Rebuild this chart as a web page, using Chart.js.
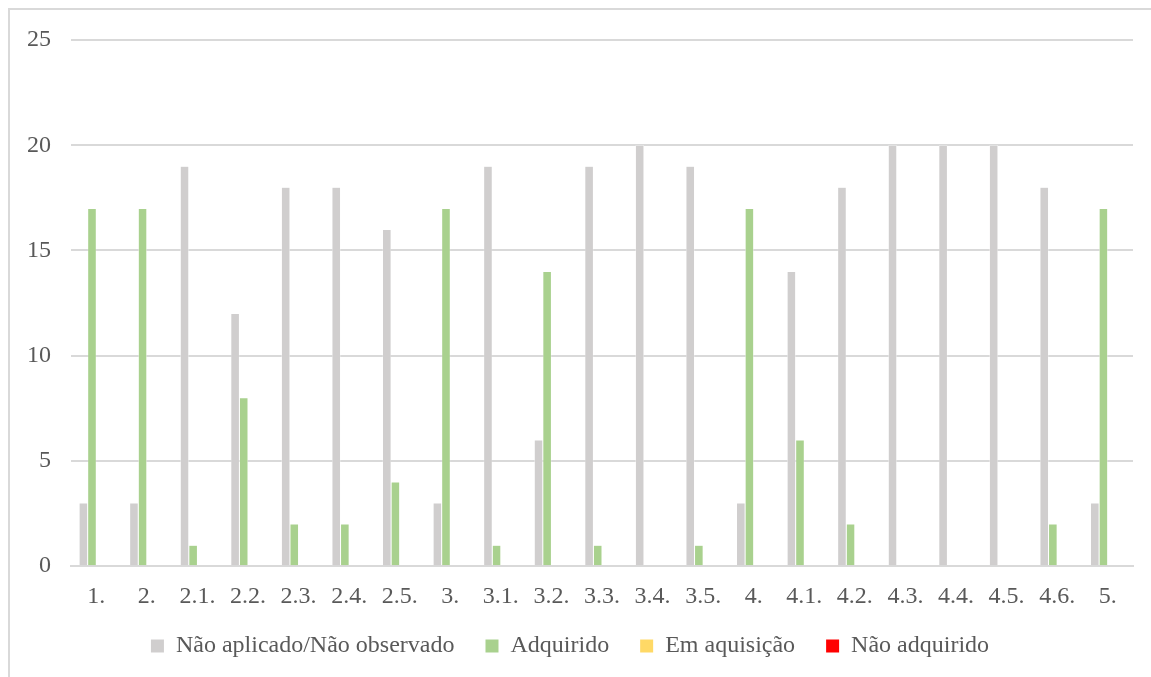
<!DOCTYPE html>
<html>
<head>
<meta charset="utf-8">
<script src="https://cdn.jsdelivr.net/npm/chart.js@4"></script>
<style>
  html, body { margin: 0; padding: 0; background: #fff; overflow: hidden; }
  #frame { position: absolute; left: 8px; top: 8px; width: 1170px; height: 700px; border: 2px solid #d9d9d9; }
  #wrap { position: absolute; left: 0; top: 0; width: 1151px; height: 677px; }
</style>
</head>
<body>
<div id="frame"></div>
<div id="wrap"><canvas id="chart"></canvas></div>
<script>
const categories = ['1.', '2.', '2.1.', '2.2.', '2.3.', '2.4.', '2.5.', '3.', '3.1.', '3.2.', '3.3.', '3.4.', '3.5.', '4.', '4.1.', '4.2.', '4.3.', '4.4.', '4.5.', '4.6.', '5.'];
const naoAplicado = [3, 3, 19, 12, 18, 18, 16, 3, 19, 6, 19, 20, 19, 3, 14, 18, 20, 20, 20, 18, 3];
const adquirido = [17, 17, 1, 8, 2, 2, 4, 17, 1, 14, 1, 0, 1, 17, 6, 2, 0, 0, 0, 2, 17];
const emAquisicao = [0, 0, 0, 0, 0, 0, 0, 0, 0, 0, 0, 0, 0, 0, 0, 0, 0, 0, 0, 0, 0];
const naoAdquirido = [0, 0, 0, 0, 0, 0, 0, 0, 0, 0, 0, 0, 0, 0, 0, 0, 0, 0, 0, 0, 0];
const yTicks = [0, 5, 10, 15, 20, 25];

const textColor = '#595959';
const font = { family: '"Liberation Serif", "Times New Roman", serif', size: 24 };

function bar(label, data, color) {
  return {
    label: label,
    data: data,
    backgroundColor: color,
    borderColor: '#ffffff',
    borderWidth: 0.5,
    categoryPercentage: 0.68,
    barPercentage: 1.0
  };
}

new Chart(document.getElementById('chart'), {
  type: 'bar',
  data: {
    labels: categories,
    datasets: [
      bar('Não aplicado/Não observado', naoAplicado, '#d0cece'),
      bar('Adquirido', adquirido, '#a9d18e'),
      bar('Em aquisição', emAquisicao, '#ffd966'),
      bar('Não adquirido', naoAdquirido, '#ff0000')
    ]
  },
  options: {
    responsive: true,
    maintainAspectRatio: false,
    animation: false,
    layout: { padding: { left: 7, right: 18, top: 40, bottom: 9 } },
    plugins: {
      tooltip: { enabled: false },
      legend: {
        position: 'bottom',
        labels: {
          color: textColor,
          font: font,
          boxWidth: 13,
          boxHeight: 13,
          padding: 7,
          generateLabels: (chart) => {
            const items = Chart.defaults.plugins.legend.labels.generateLabels(chart);
            // extra gap between legend entries
            items.forEach((it, i) => {
              it.lineWidth = 0;
              if (i < items.length - 1) it.text = it.text + '    ';
            });
            return items;
          }
        }
      }
    },
    scales: {
      x: {
        grid: { display: false, drawTicks: false },
        border: { display: true, color: '#d9d9d9', width: 2 },
        ticks: { color: textColor, font: font, padding: 16, maxRotation: 0, autoSkip: false }
      },
      y: {
        min: 0,
        max: 25,
        afterBuildTicks: (scale) => { scale.ticks = yTicks.map(v => ({ value: v })); },
        grid: { color: '#d9d9d9', lineWidth: 2, drawTicks: false },
        border: { display: false },
        ticks: { color: textColor, font: font, padding: 20 }
      }
    }
  }
});
</script>
</body>
</html>
